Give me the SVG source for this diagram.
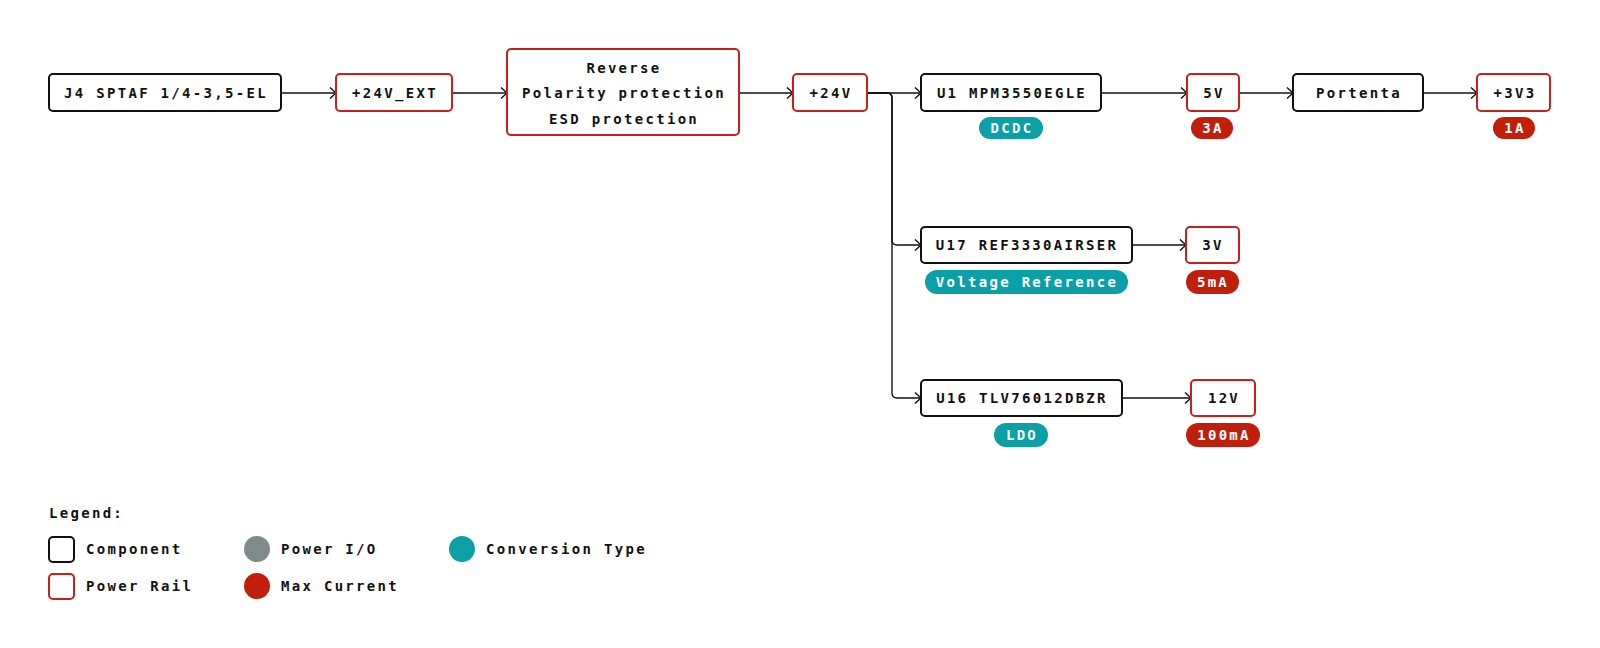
<svg xmlns="http://www.w3.org/2000/svg" width="1600" height="648" viewBox="0 0 1600 648">
<style>
text{font-family:"DejaVu Sans Mono","Liberation Mono",monospace;font-size:14px;letter-spacing:2.3px;fill:#111;text-anchor:middle;font-weight:bold}
.comp{fill:#fff;stroke:#111;stroke-width:2}
.rail{fill:#fff;stroke:#c8201a;stroke-width:2}
.conv{fill:#0aa0a6}
.cur{fill:#c01f0c}
.io{fill:#7f8b8b}
.pt{fill:#fff}
.lg{text-anchor:start}
.wire{fill:none;stroke:#111;stroke-width:1.4}
</style>
<defs>
<marker id="arr" viewBox="0 0 10 12" refX="9" refY="6" markerWidth="10" markerHeight="12" markerUnits="userSpaceOnUse" orient="auto">
<path d="M3,0.5 L9,6 L3,11.5" fill="none" stroke="#111" stroke-width="1.4"/>
</marker>
</defs>
<rect width="1600" height="648" fill="#fff"/>
<g id="connectors">
<path class="wire" d="M281,93 H336" marker-end="url(#arr)"/>
<path class="wire" d="M452,93 H507" marker-end="url(#arr)"/>
<path class="wire" d="M739,93 H793" marker-end="url(#arr)"/>
<path class="wire" d="M867,93 H921" marker-end="url(#arr)"/>
<path class="wire" d="M867,93 H887 Q892,93 892,98 V240 Q892,245 897,245 H921" marker-end="url(#arr)"/>
<path class="wire" d="M867,93 H887 Q892,93 892,98 V393 Q892,398 897,398 H921" marker-end="url(#arr)"/>
<path class="wire" d="M1101,93 H1187" marker-end="url(#arr)"/>
<path class="wire" d="M1239,93 H1293" marker-end="url(#arr)"/>
<path class="wire" d="M1423,93 H1477" marker-end="url(#arr)"/>
<path class="wire" d="M1132,245 H1186" marker-end="url(#arr)"/>
<path class="wire" d="M1122,398 H1191" marker-end="url(#arr)"/>
</g>
<g id="j4"><rect class="comp" x="49" y="74" width="232" height="37" rx="4"/><text x="166" y="98">J4 SPTAF 1/4-3,5-EL</text></g>
<g id="v24ext"><rect class="rail" x="336" y="74" width="116" height="37" rx="4"/><text x="395" y="98">+24V_EXT</text></g>
<g id="protection"><rect class="rail" x="507" y="49" width="232" height="86" rx="4"/>
<text x="624" y="73">Reverse</text><text x="624" y="98">Polarity protection</text><text x="624" y="124">ESD protection</text></g>
<g id="v24"><rect class="rail" x="793" y="74" width="74" height="37" rx="4"/><text x="831" y="98">+24V</text></g>
<g id="u1"><rect class="comp" x="921" y="74" width="180" height="37" rx="4"/><text x="1012" y="98">U1 MPM3550EGLE</text>
<rect class="conv" x="979" y="117" width="64" height="22" rx="11"/><text class="pt" x="1012" y="133">DCDC</text></g>
<g id="v5"><rect class="rail" x="1187" y="74" width="52" height="37" rx="4"/><text x="1214" y="98">5V</text>
<rect class="cur" x="1191" y="117" width="42" height="22" rx="11"/><text class="pt" x="1213" y="133">3A</text></g>
<g id="portenta"><rect class="comp" x="1293" y="74" width="130" height="37" rx="4"/><text x="1359" y="98">Portenta</text></g>
<g id="v3v3"><rect class="rail" x="1477" y="74" width="73" height="37" rx="4"/><text x="1515" y="98">+3V3</text>
<rect class="cur" x="1493" y="117" width="42" height="22" rx="11"/><text class="pt" x="1515" y="133">1A</text></g>
<g id="u17"><rect class="comp" x="921" y="227" width="211" height="36" rx="4"/><text x="1027" y="250">U17 REF3330AIRSER</text>
<rect class="conv" x="925" y="270" width="203" height="24" rx="12"/><text class="pt" x="1027" y="287">Voltage Reference</text></g>
<g id="v3"><rect class="rail" x="1186" y="227" width="53" height="36" rx="4"/><text x="1213" y="250">3V</text>
<rect class="cur" x="1186" y="270" width="53" height="24" rx="12"/><text class="pt" x="1213" y="287">5mA</text></g>
<g id="u16"><rect class="comp" x="921" y="380" width="201" height="36" rx="4"/><text x="1022" y="403">U16 TLV76012DBZR</text>
<rect class="conv" x="994" y="423" width="54" height="24" rx="12"/><text class="pt" x="1022" y="440">LDO</text></g>
<g id="v12"><rect class="rail" x="1191" y="380" width="64" height="36" rx="4"/><text x="1224" y="403">12V</text>
<rect class="cur" x="1186" y="423" width="74" height="24" rx="12"/><text class="pt" x="1224" y="440">100mA</text></g>
<g id="legend">
<text class="lg" x="49" y="518">Legend:</text>
<rect class="comp" x="49" y="537" width="25" height="25" rx="4"/><text class="lg" x="86" y="554">Component</text>
<rect class="rail" x="49" y="574" width="25" height="25" rx="4"/><text class="lg" x="86" y="591">Power Rail</text>
<circle class="io" cx="257" cy="549" r="13"/><text class="lg" x="281" y="554">Power I/O</text>
<circle class="cur" cx="257" cy="586" r="13"/><text class="lg" x="281" y="591">Max Current</text>
<circle class="conv" cx="462" cy="549" r="13"/><text class="lg" x="486" y="554">Conversion Type</text>
</g>
</svg>
